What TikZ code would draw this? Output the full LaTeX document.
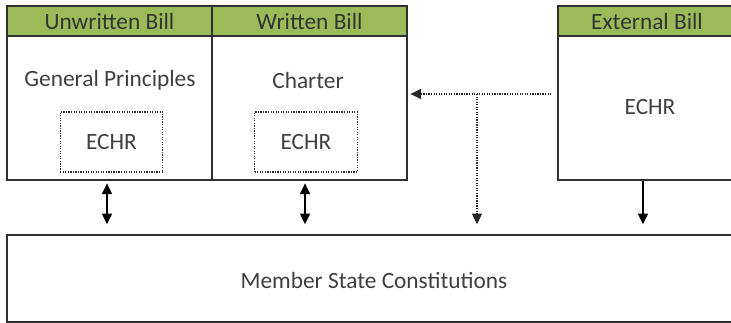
\documentclass[tikz,border=0pt]{standalone}
\usepackage{fontspec}
\setmainfont{Carlito}
\usetikzlibrary{arrows.meta}
\definecolor{hdrgreen}{HTML}{9BBB59}
\definecolor{txtgray}{HTML}{3F3F3F}
\definecolor{linegray}{HTML}{303030}
\tikzset{
  billbox/.style={draw=linegray, line width=1.1pt, rectangle, inner sep=0pt},
  billhead/.style={draw=linegray, line width=1.1pt, fill=hdrgreen, rectangle, inner sep=0pt,
    minimum height=22.5pt, text=black!80, font=\fontsize{17.5}{20}\selectfont},
  echrbox/.style={draw=linegray, line width=0.9pt, densely dotted, rectangle, inner sep=0pt,
    minimum width=77pt, minimum height=45pt},
  lbl/.style={text=txtgray, font=\fontsize{17.5}{20}\selectfont, inner sep=1pt},
  link/.style={line width=1pt, draw=black, -{Triangle[length=8pt,width=7.5pt]}},
  dlink/.style={line width=1pt, draw=black, {Triangle[length=8pt,width=7.5pt]}-{Triangle[length=8pt,width=7.5pt]}},
  dotlink/.style={line width=0.9pt, draw=black!85, densely dotted}
}
\begin{document}
\begin{tikzpicture}[x=0.75pt,y=0.75pt,yscale=-1]
\useasboundingbox (0,0) rectangle (731,323);

% Boxes
\node[billbox, minimum width=153.75pt, minimum height=130.5pt] (unwritten) at (109.5,93) {};
\node[billbox, minimum width=146.25pt, minimum height=130.5pt] (written) at (309.5,93) {};
\node[billbox, minimum width=133.5pt, minimum height=130.5pt] (external) at (647,93) {};
\node[billbox, minimum width=546.75pt, minimum height=65.25pt] (member) at (371.5,278.5) {};

% Headers
\node[billhead, minimum width=153.75pt] (hunwritten) at (109.5,21) {Unwritten Bill};
\node[billhead, minimum width=146.25pt] (hwritten) at (309.5,21) {Written Bill};
\node[billhead, minimum width=133.5pt] (hexternal) at (647,21) {External Bill};

% Inner texts
\node[lbl] (general) at (110,80) {General Principles};
\node[lbl] (charter) at (308,80) {Charter};
\node[echrbox] (echrone) at (111.5,142) {};
\node[lbl] at (echrone) {ECHR};
\node[echrbox] (echrtwo) at (306,142) {};
\node[lbl] at (echrtwo) {ECHR};
\node[lbl] (echrext) at (650,107) {ECHR};
\node[lbl] (memberlbl) at (374,280) {Member State Constitutions};

% Connectors
\coordinate (tee) at (477,94);
\draw[dotlink, -{Triangle[length=8pt,width=7.5pt]}, shorten <=4.5pt, shorten >=2pt] (external.west |- tee) -- (written.east |- tee);
\draw[dotlink, -{Triangle[length=8pt,width=7.5pt]}, shorten >=7.5pt] (tee) -- (tee |- member.north);
\draw[link, shorten >=7.5pt] (external.south -| 643,0) -- (member.north -| 643,0);
\draw[dlink, shorten <=2pt, shorten >=7.5pt] (unwritten.south -| 107,0) -- (member.north -| 107,0);
\draw[dlink, shorten <=2pt, shorten >=7.5pt] (written.south -| 305,0) -- (member.north -| 305,0);

\end{tikzpicture}
\end{document}
